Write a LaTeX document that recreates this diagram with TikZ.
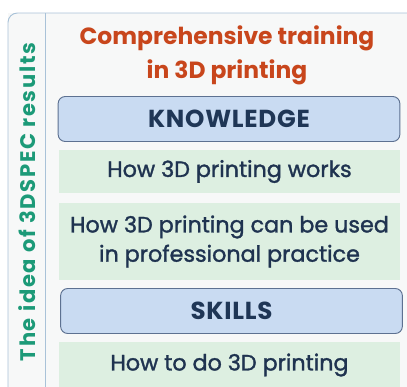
\documentclass[tikz,border=0pt]{standalone}
\usepackage{fontspec}
\setmainfont{Poppins}
\newfontfamily\sidefont[LetterSpace=8]{Poppins}
\newfontfamily\headfont[LetterSpace=3]{Poppins}
\newfontfamily\itemfont[FakeBold=1.4]{Poppins}
\usepackage{xcolor}
\usetikzlibrary{positioning}

\definecolor{framecol}{HTML}{A9C2D8}
\definecolor{panelbg}{HTML}{F7F8F8}
\definecolor{titlered}{HTML}{C8461C}
\definecolor{headfill}{HTML}{C9DBF2}
\definecolor{headline}{HTML}{5D7191}
\definecolor{headtext}{HTML}{1F3656}
\definecolor{itemfill}{HTML}{DDEFE1}
\definecolor{itemtext}{HTML}{1F3350}
\definecolor{sidegreen}{HTML}{1C9A78}

\begin{document}
\begin{tikzpicture}[
    x=0.03cm, y=-0.03cm,
    headbox/.style={draw=headline, fill=headfill, rounded corners=6pt, line width=0.8pt, minimum width=10.25cm, minimum height=1.35cm, align=center, font=\headfont\fontsize{21}{24}\selectfont\bfseries, text=headtext},
    itembox/.style={fill=itemfill, minimum width=10.2cm, align=center, font=\itemfont\fontsize{19}{25}\selectfont, text=itemtext, inner sep=0pt}
]
    \useasboundingbox (0,0) rectangle (407,387);
    % outer panel
    \fill[panelbg] (8,13) rectangle (420,400);
    \draw[framecol, line width=0.8pt, rounded corners=8pt] (8,400) -- (8,13) -- (420,13);
    \draw[framecol, line width=0.8pt] (45,13) -- (45,400);

    % side label
    \node[rotate=90, text=sidegreen, font=\sidefont\fontsize{18}{20}\selectfont\bfseries] (side) at (27,202) {The idea of 3DSPEC results};

    % title
    \node[text=titlered, align=center, font=\fontsize{20}{29}\selectfont\bfseries] (title) at (227,55) {Comprehensive training\\in 3D printing};

    % blocks
    \node[headbox] (know) at (229,119) {KNOWLEDGE};
    \node[itembox, minimum height=1.3cm] (works) at (229.5,171.5) {How 3D printing works};
    \node[itembox, minimum height=2.3cm] (usage) at (229.5,241.5) {How 3D printing can be used\\in professional practice};
    \node[headbox] (skills) at (231.5,311) {SKILLS};
    \node[itembox, minimum height=1.4cm] (doing) at (229.5,365) {How to do 3D printing};
\end{tikzpicture}
\end{document}
